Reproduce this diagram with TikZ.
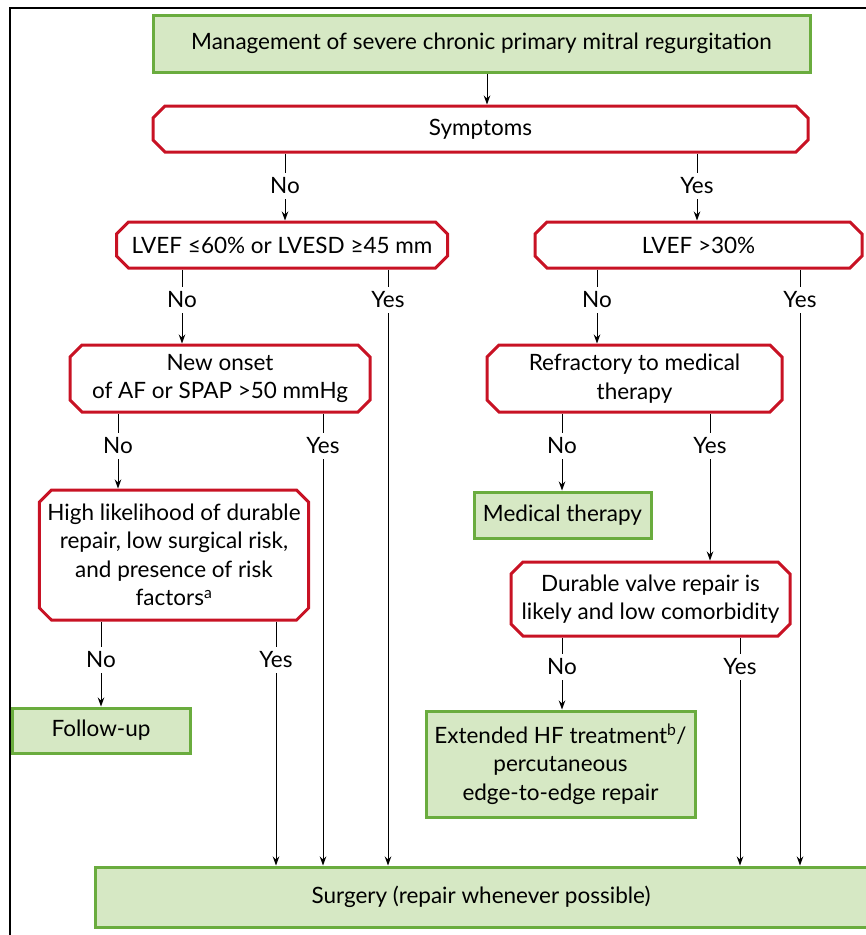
\documentclass[tikz,border=0pt]{standalone}
\usepackage{fontspec}
\setmainfont{Lato}
\definecolor{boxgreen}{RGB}{214,232,196}
\definecolor{edgegreen}{RGB}{106,172,62}
\definecolor{decred}{RGB}{200,18,36}
\usetikzlibrary{shapes.misc,arrows.meta,positioning,calc}

\begin{document}
\begin{tikzpicture}[x=1pt,y=-1pt,
    every node/.style={font=\fontsize{22.5}{28.5}\selectfont},
    action/.style={draw=edgegreen,fill=boxgreen,line width=3pt,align=center,inner sep=2pt},
    decision/.style={chamfered rectangle,chamfered rectangle xsep=6pt,
        chamfered rectangle ysep=6pt,draw=decred,line width=3pt,align=center,inner sep=2pt},
    answer/.style={inner sep=5pt},
    link/.style={line width=0.9pt},
    flow/.style={link,-{Stealth[length=9pt,width=6.5pt]}}]
    \useasboundingbox (0,0) rectangle (866,935);

    % Frame
    \draw[line width=2pt] (10,945) -- (10,8) -- (880,8);

    % Boxes
    \node[action,minimum width=657pt,minimum height=57pt] (title) at (481.5,43.5)
        {Management of severe chronic primary mitral regurgitation};
    \node[decision,minimum width=655pt,minimum height=46pt] (sym) at (480.5,129) {Symptoms};
    \node[decision,minimum width=331pt,minimum height=46pt] (lvefa) at (282,245)
        {LVEF ≤60\% or LVESD ≥45 mm};
    \node[decision,minimum width=327pt,minimum height=46pt] (lvefb) at (698.5,245) {LVEF >30\%};
    \node[decision,minimum width=300pt,minimum height=67pt] (onset) at (220,378.5)
        {New onset\\of AF or SPAP >50 mmHg};
    \node[decision,minimum width=295pt,minimum height=67pt] (refr) at (634.5,378.5)
        {Refractory to medical\\therapy};
    \node[action,minimum width=177pt,minimum height=46pt] (medic) at (562.5,515) {Medical therapy};
    \node[decision,minimum width=266pt,minimum height=130pt] (high) at (174,555)
        {High likelihood of durable\\repair, low surgical risk,\\and presence of risk\\factors\textsuperscript{a}};
    \node[decision,minimum width=279pt,minimum height=74pt] (dur) at (650.5,599)
        {Durable valve repair is\\likely and low comorbidity};
    \node[action,minimum width=178pt,minimum height=45pt] (follow) at (101,730.5) {Follow-up};
    \node[action,minimum width=269pt,minimum height=106pt] (ext) at (560.5,764)
        {Extended HF treatment\textsuperscript{b}/\\percutaneous\\edge-to-edge repair};
    \node[action,minimum width=772pt,minimum height=60pt] (surg) at (481,897)
        {Surgery (repair whenever possible)};

    % Answers
    \node[answer] (symno) at (285,186) {No};
    \node[answer] (symyes) at (697,186) {Yes};
    \node[answer] (lvefano) at (182,300) {No};
    \node[answer] (lvefayes) at (388,300) {Yes};
    \node[answer] (lvefbno) at (597,300) {No};
    \node[answer] (lvefbyes) at (800,300) {Yes};
    \node[answer] (onsetno) at (118,446) {No};
    \node[answer] (onsetyes) at (323,446) {Yes};
    \node[answer] (refrno) at (562,446) {No};
    \node[answer] (refryes) at (710,446) {Yes};
    \node[answer] (highno) at (101,660) {No};
    \node[answer] (highyes) at (276,660) {Yes};
    \node[answer] (durno) at (562,667) {No};
    \node[answer] (duryes) at (740,667) {Yes};

    % Connectors
    \draw[flow] (title.south -| 487,0) -- (sym.north -| 487,0);
    \draw[link] (sym.south -| symno) -- (symno);
    \draw[flow] (symno) -- (lvefa.north -| symno);
    \draw[link] (sym.south -| symyes) -- (symyes);
    \draw[flow] (symyes) -- (lvefb.north -| symyes);

    \draw[link] (lvefa.south -| lvefano) -- (lvefano);
    \draw[flow] (lvefano) -- (onset.north -| lvefano);
    \draw[link] (lvefa.south -| lvefayes) -- (lvefayes);
    \draw[flow] (lvefayes) -- (surg.north -| lvefayes);
    \draw[link] (lvefb.south -| lvefbno) -- (lvefbno);
    \draw[flow] (lvefbno) -- (refr.north -| lvefbno);
    \draw[link] (lvefb.south -| lvefbyes) -- (lvefbyes);
    \draw[flow] (lvefbyes) -- (surg.north -| lvefbyes);

    \draw[link] (onset.south -| onsetno) -- (onsetno);
    \draw[flow] (onsetno) -- (high.north -| onsetno);
    \draw[link] (onset.south -| onsetyes) -- (onsetyes);
    \draw[flow] (onsetyes) -- (surg.north -| onsetyes);
    \draw[link] (refr.south -| refrno) -- (refrno);
    \draw[flow] (refrno) -- (medic.north -| refrno);
    \draw[link] (refr.south -| refryes) -- (refryes);
    \draw[flow] (refryes) -- (dur.north -| refryes);

    \draw[link] (high.south -| highno) -- (highno);
    \draw[flow] (highno) -- (follow.north -| highno);
    \draw[link] (high.south -| highyes) -- (highyes);
    \draw[flow] (highyes) -- (surg.north -| highyes);
    \draw[link] (dur.south -| durno) -- (durno);
    \draw[flow] (durno) -- (ext.north -| durno);
    \draw[link] (dur.south -| duryes) -- (duryes);
    \draw[flow] (duryes) -- (surg.north -| duryes);
\end{tikzpicture}
\end{document}
